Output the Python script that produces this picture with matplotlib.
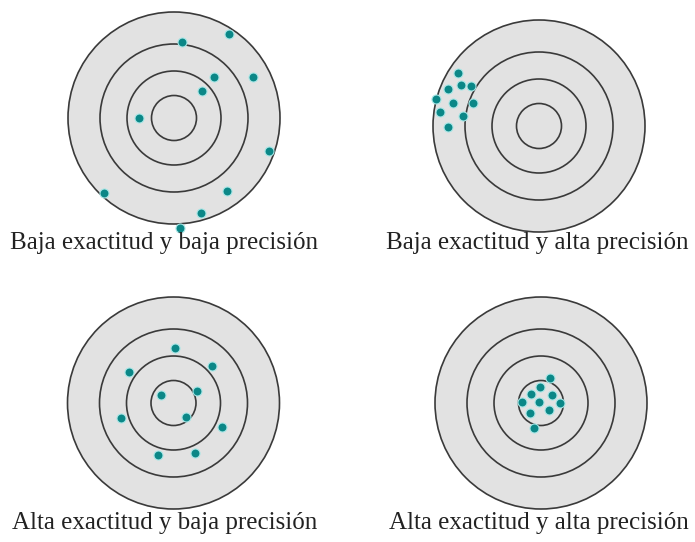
import matplotlib
matplotlib.use("Agg")
import matplotlib.pyplot as plt
from matplotlib.patches import Circle

# ring radii (same for all four targets)
rings = [22.5, 47, 74, 106]

# shot offsets from the target centre (x right, y up)
tl_x = [8, 55, 40, 79, 28, -35, 95, -70, 53, 27, 6]
tl_y = [76, 84, 41, 41, 27, 0, -33, -75, -73, -95, -110]

tr_x = [-81, -91, -78, -68, -103, -86, -66, -99, -76, -91]
tr_y = [53, 37, 41, 40, 27, 23, 23, 14, 10, -1]

bl_x = [1, -45, 38, -13, 23, 12, -53, 48, -16, 21]
bl_y = [55, 31, 37, 8, 12, -14, -15, -24, -52, -50]

br_x = [9, -1, 11, -10, -19, -2, 19, -11, 8, -7]
br_y = [25, 16, 8, 9, 1, 1, 0, -10, -7, -25]

labels = ["Baja exactitud y baja precisión",
          "Baja exactitud y alta precisión",
          "Alta exactitud y baja precisión",
          "Alta exactitud y alta precisión"]

W, H = 695, 542
fig = plt.figure(figsize=(W / 100, H / 100), dpi=100)
fig.patch.set_facecolor("white")

# target centre and label centre, in pixels from top-left
centres = [(174, 118), (539, 126), (173.5, 403), (541, 403)]
label_pos = [(164, 243), (537, 243), (165, 523), (539, 523)]
shots = [(tl_x, tl_y), (tr_x, tr_y), (bl_x, bl_y), (br_x, br_y)]

half = 118
for (cx, cy), (xs, ys), (lx, ly), lab in zip(centres, shots, label_pos, labels):
    ax = fig.add_axes([(cx - half) / W, (H - cy - half) / H, 2 * half / W, 2 * half / H])
    ax.set_xlim(-half, half)
    ax.set_ylim(-half, half)
    ax.set_aspect("equal")
    ax.axis("off")
    ax.add_patch(Circle((0, 0), rings[-1], facecolor="#e2e2e2", edgecolor="none", zorder=1))
    for r in rings:
        ax.add_patch(Circle((0, 0), r, fill=False, edgecolor="#3a3a3a", lw=1.2, zorder=2))
    ax.scatter(xs, ys, s=42, color="#0b8787", edgecolors="#a6e6e6", linewidths=0.8, zorder=3)
    fig.text(lx / W, 1 - ly / H, lab, ha="center", va="center",
             fontsize=18, family="Liberation Serif", color="#222222")

fig.savefig("out.png", dpi=100)
